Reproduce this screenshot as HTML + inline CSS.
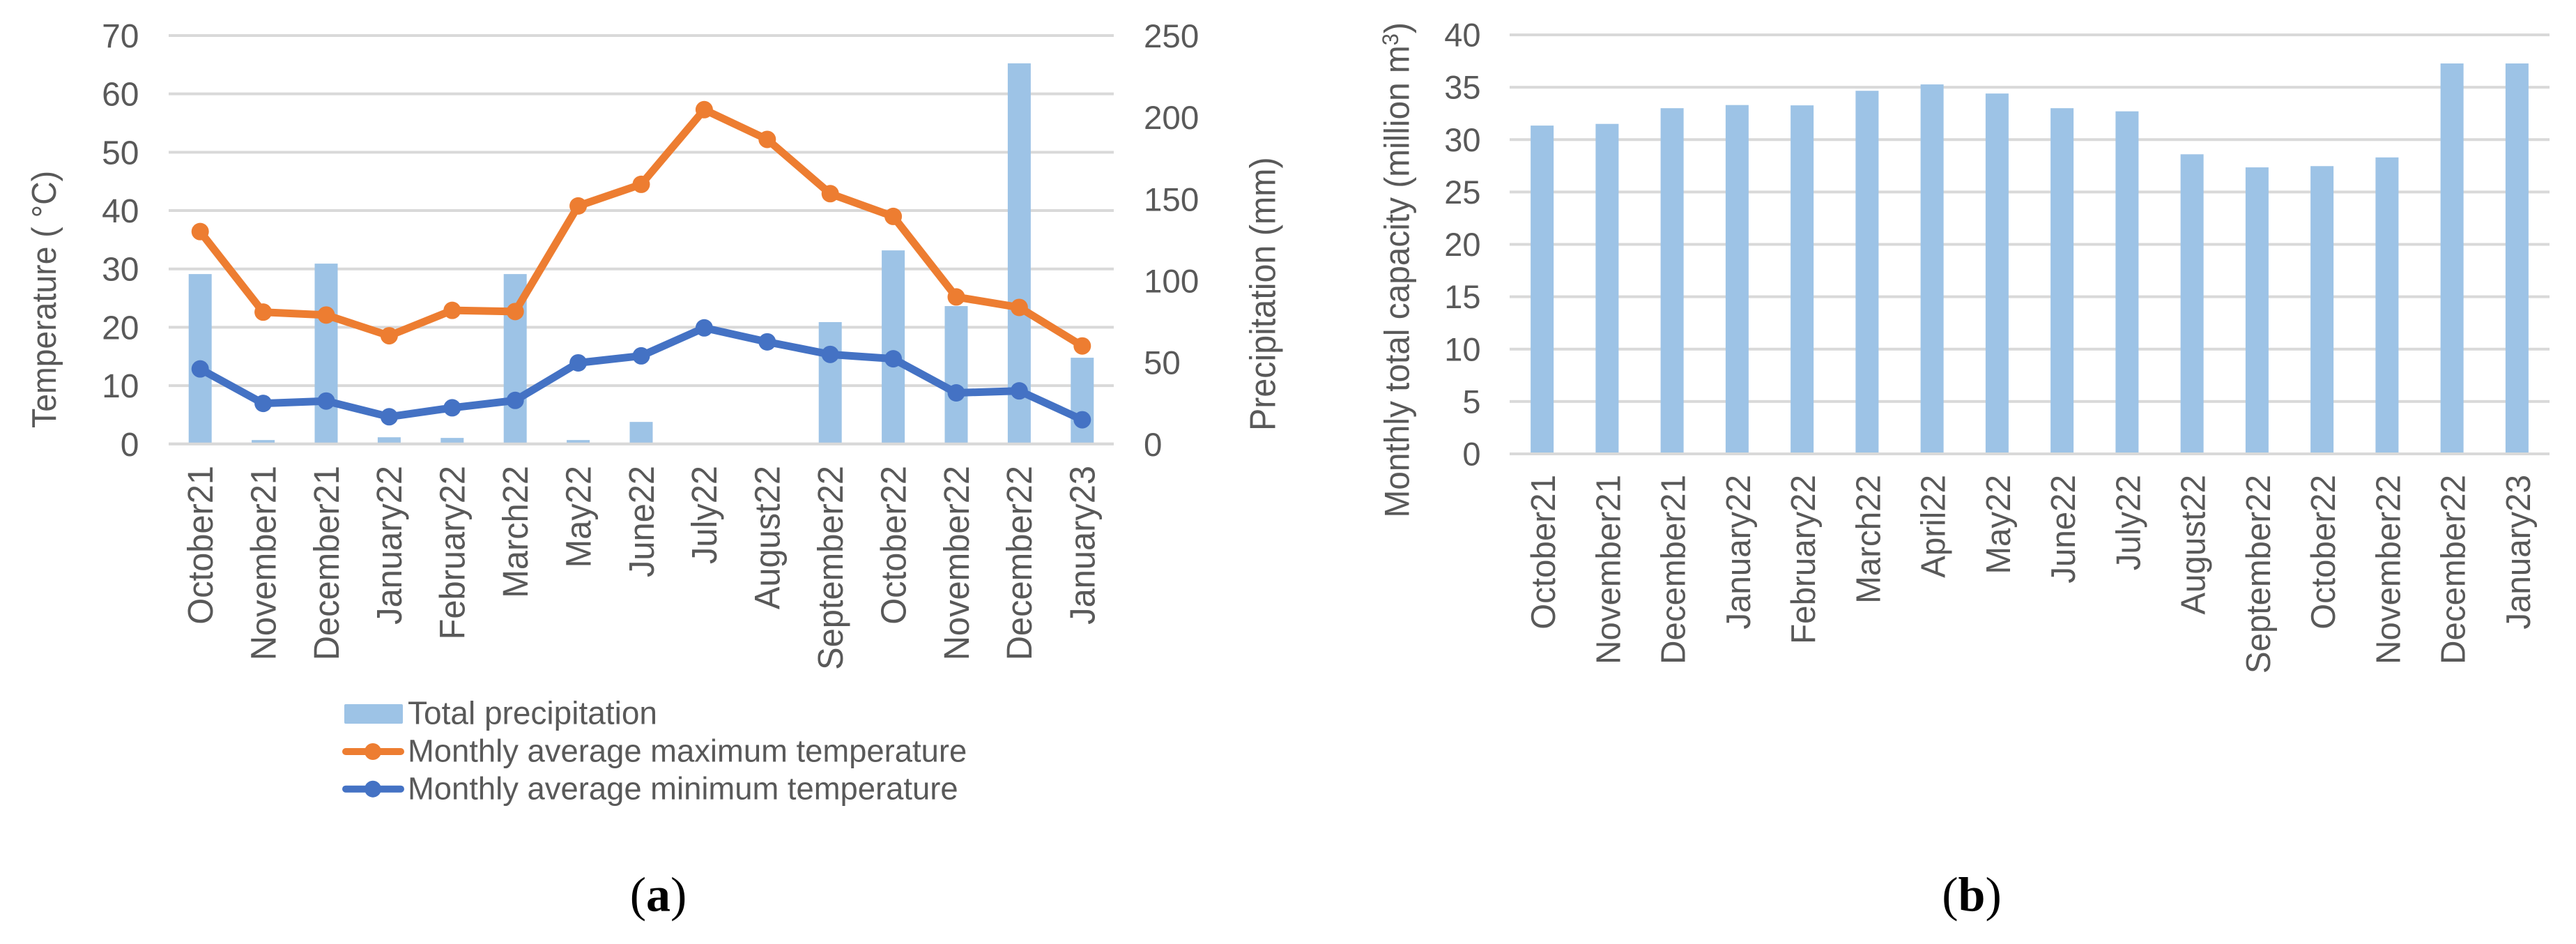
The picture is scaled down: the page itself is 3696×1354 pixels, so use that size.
<!DOCTYPE html>
<html lang="en">
<head>
<meta charset="utf-8">
<title>Temperature, precipitation and monthly total capacity charts</title>
<style>
html,body{margin:0;padding:0;background:#fff;}
svg{display:block;}
text{font-family:"Liberation Sans",Arial,sans-serif;fill:#595959;}
.cap{font-family:"Liberation Serif","Times New Roman",serif;fill:#000;}
</style>
</head>
<body>
<svg id="fig" xmlns="http://www.w3.org/2000/svg" width="3696" height="1354" viewBox="0 0 3696 1354">
  <rect x="0" y="0" width="3696" height="1354" fill="#fff"/>
  <g id="chartA">
    <g id="gridA"></g>
    <g id="barsA"></g>
    <g id="axisA"></g>
    <g id="linesA"></g>
    <g id="tickA"></g>
    <text transform="translate(80,614) rotate(-90) scale(1,1.06)" font-size="46.4">Temperature ( °C)</text>
    <text transform="translate(1829.5,618) rotate(-90) scale(1,1.08)" font-size="48.4">Precipitation (mm)</text>
    <g>
      <g>
        <rect x="494" y="1010" width="84" height="28" rx="2" fill="#9dc3e6"/>
        <text x="585" y="1038.7" font-size="46">Total precipitation</text>
      </g>
      <g>
        <line x1="496" y1="1078" x2="575" y2="1078" stroke="#ed7d31" stroke-width="10" stroke-linecap="round"/>
        <circle cx="535" cy="1078" r="12" fill="#ed7d31"/>
        <text x="585" y="1092.7" font-size="45.4">Monthly average maximum temperature</text>
      </g>
      <g>
        <line x1="496" y1="1131.7" x2="575" y2="1131.7" stroke="#4472c4" stroke-width="10" stroke-linecap="round"/>
        <circle cx="535" cy="1131.7" r="12" fill="#4472c4"/>
        <text x="585" y="1146.7" font-size="45.4">Monthly average minimum temperature</text>
      </g>
    </g>
    <text class="cap" x="944.5" y="1306.7" font-size="70" text-anchor="middle">(<tspan font-weight="bold">a</tspan>)</text>
  </g>
  <g id="chartB">
    <g id="gridB"></g>
    <g id="barsB"></g>
    <g id="axisB"></g>
    <g id="tickB"></g>
    <text transform="translate(2021.7,742.5) rotate(-90) scale(1,1.05)" font-size="47.8">Monthly total capacity (million m<tspan font-size="31" dy="-15">3</tspan><tspan dy="15">)</tspan></text>
    <text class="cap" x="2829" y="1306.7" font-size="70" text-anchor="middle">(<tspan font-weight="bold">b</tspan>)</text>
  </g>
</svg>
<script>
const monthsA = ["October21","November21","December21","January22","February22","March22","May22","June22","July22","August22","September22","October22","November22","December22","January23"];
const precipitation = [104,2.4,110.4,4.1,3.7,104,2.4,13.5,0,0,74.6,118.5,84.4,233,52.8];
const tempMax = [36.4,22.6,22.1,18.55,22.9,22.7,40.8,44.5,57.3,52.2,42.9,39.0,25.2,23.4,16.8];
const tempMin = [12.86,6.95,7.36,4.66,6.2,7.47,13.9,15.1,19.9,17.5,15.35,14.6,8.76,9.1,4.15];
const tempTicks = [0,10,20,30,40,50,60,70];
const precipTicks = [0,50,100,150,200,250];

const monthsB = ["October21","November21","December21","January22","February22","March22","April22","May22","June22","July22","August22","September22","October22","November22","December22","January23"];
const capacity = [31.34,31.5,33.0,33.3,33.27,34.66,35.27,34.4,33.0,32.7,28.6,27.35,27.47,28.3,37.27,37.27];
const capacityTicks = [0,5,10,15,20,25,30,35,40];

const NS = "http://www.w3.org/2000/svg";
const A = {left:242,right:1598,top:51,bottom:636.8};
const B = {left:2166,right:3658,top:50,bottom:651};
const BAR_W = 33;

function xA(i){return A.left+(A.right-A.left)*(i+0.5)/monthsA.length;}
function yTemp(v){return A.bottom-(A.bottom-A.top)*v/70;}
function yPrecip(v){return A.bottom-(A.bottom-A.top)*v/250;}
function xB(i){return B.left+(B.right-B.left)*(i+0.5)/monthsB.length;}
function yB(v){return B.bottom-(B.bottom-B.top)*v/40;}

function mk(tag,parent,attrs){
  const el=document.createElementNS(NS,tag);
  for(const k in attrs){el.setAttribute(k,attrs[k]);}
  parent.appendChild(el);
  return el;
}
function byId(id){return document.getElementById(id);}

/* Chart A gridlines */
tempTicks.forEach(function(t){
  const el=mk("line",byId("gridA"),{x1:A.left,x2:A.right,y1:yTemp(t),y2:yTemp(t),stroke:"#d9d9d9","stroke-width":4});
  
  
});
/* Chart A bars */
precipitation.forEach(function(v,i){
  const el=mk("rect",byId("barsA"),{x:xA(i)-BAR_W/2,y:yPrecip(v),width:BAR_W,height:A.bottom-yPrecip(v),fill:"#9dc3e6"});
  
  
});
const axA=mk("line",byId("axisA"),{x1:A.left,x2:A.right,y1:yTemp(0),y2:yTemp(0),stroke:"#d9d9d9","stroke-width":4});



/* Chart A lines */
function drawSeries(values,color,lineName,pointName){
  const pts=values.map(function(v,i){return xA(i)+","+yTemp(v);}).join(" ");
  const pl=mk("polyline",byId("linesA"),{points:pts,fill:"none",stroke:color,"stroke-width":11,"stroke-linejoin":"round"});
  
  
  values.forEach(function(v,i){
    const c=mk("circle",byId("linesA"),{cx:xA(i),cy:yTemp(v),r:12.5,fill:color});
    
    
  });
}
drawSeries(tempMax,"#ed7d31","max-temperature-line","max-temperature-point");
drawSeries(tempMin,"#4472c4","min-temperature-line","min-temperature-point");

/* Chart A ticks */
tempTicks.forEach(function(t){
  const el=mk("text",byId("tickA"),{x:199.5,y:yTemp(t)+17,"font-size":48,"text-anchor":"end"});
  el.textContent=t;
  
  
});
precipTicks.forEach(function(t){
  const el=mk("text",byId("tickA"),{x:1641,y:yPrecip(t)+17,"font-size":47.5});
  el.textContent=t;
  
  
});
monthsA.forEach(function(m,i){
  const el=mk("text",byId("tickA"),{transform:"translate("+(xA(i)+17.8)+",668) rotate(-90) scale(1,1.05)","font-size":48.8,"text-anchor":"end"});
  el.textContent=m;
  
  
});

/* Chart B */
capacityTicks.forEach(function(t){
  const el=mk("line",byId("gridB"),{x1:B.left,x2:B.right,y1:yB(t),y2:yB(t),stroke:"#d9d9d9","stroke-width":4});
  
  
});
capacity.forEach(function(v,i){
  const el=mk("rect",byId("barsB"),{x:xB(i)-BAR_W/2,y:yB(v),width:BAR_W,height:B.bottom-yB(v),fill:"#9dc3e6"});
  
  
});
const axB=mk("line",byId("axisB"),{x1:B.left,x2:B.right,y1:yB(0),y2:yB(0),stroke:"#d9d9d9","stroke-width":4});


capacityTicks.forEach(function(t){
  const el=mk("text",byId("tickB"),{x:2124.5,y:yB(t)+16.5,"font-size":47,"text-anchor":"end"});
  el.textContent=t;
  
  
});
monthsB.forEach(function(m,i){
  const el=mk("text",byId("tickB"),{transform:"translate("+(xB(i)+18.4)+",681) rotate(-90) scale(1,1.03)","font-size":47.5,"text-anchor":"end"});
  el.textContent=m;
  
  
});
</script>
</body>
</html>
